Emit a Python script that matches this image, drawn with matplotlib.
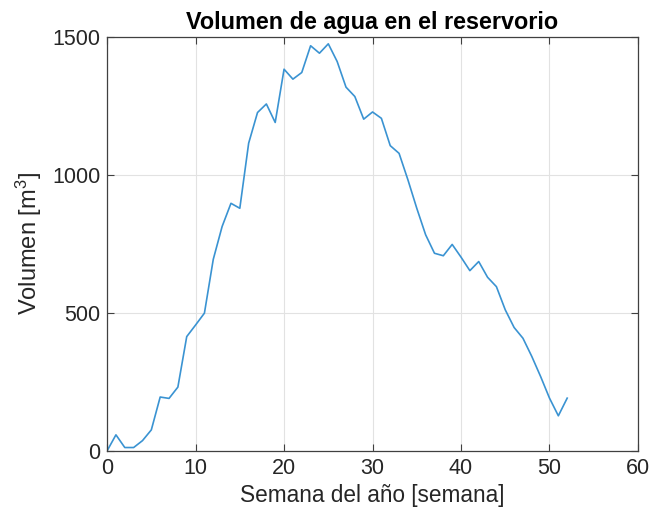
import matplotlib
matplotlib.use("Agg")
import matplotlib.pyplot as plt

plt.rcParams['font.family'] = ['Liberation Sans', 'DejaVu Sans']
plt.rcParams['mathtext.fontset'] = 'custom'
plt.rcParams['mathtext.rm'] = 'Liberation Sans'
plt.rcParams['mathtext.it'] = 'Liberation Sans'

# weekly reservoir volume, week 0..52
semanas = list(range(53))
volumen = [0, 58, 12, 12, 37, 76, 195, 190, 231, 414,
           456, 499, 694, 813, 897, 879, 1115, 1226, 1257, 1190,
           1383, 1347, 1371, 1468, 1441, 1475, 1411, 1318, 1284, 1202,
           1228, 1205, 1106, 1078, 982, 879, 783, 716, 707, 748,
           702, 653, 686, 629, 595, 511, 447, 408, 342, 269,
           191, 127, 191]

xticks = [0, 10, 20, 30, 40, 50, 60]
yticks = [0, 500, 1000, 1500]

txt = '#262626'

fig = plt.figure(figsize=(6.53, 5.2), dpi=100)
ax = fig.add_axes([0.164, 0.133, 0.813, 0.796])

ax.plot(semanas, volumen, color='#3a93d2', linewidth=1.2)

ax.set_xlim(0, 60)
ax.set_ylim(0, 1500)
ax.set_xticks(xticks)
ax.set_yticks(yticks)
ax.grid(True, color='#e2e2e2', linewidth=0.8)
ax.set_axisbelow(True)

ax.tick_params(direction='in', length=5, width=0.8, colors='#404040',
               labelcolor=txt, labelsize=15.5, top=True, right=True, pad=5)
for s in ax.spines.values():
    s.set_color('#404040')
    s.set_linewidth(0.9)

ax.set_title('Volumen de agua en el reservorio', fontsize=16.8,
             fontweight='bold', color='black', pad=6)
ax.set_xlabel('Semana del año [semana]', fontsize=16.3, color=txt, labelpad=4)
ax.set_ylabel('Volumen [m$^{\\mathrm{3}}$]', fontsize=17, color=txt, labelpad=6)

fig.savefig('out.png', dpi=100, facecolor='white')
